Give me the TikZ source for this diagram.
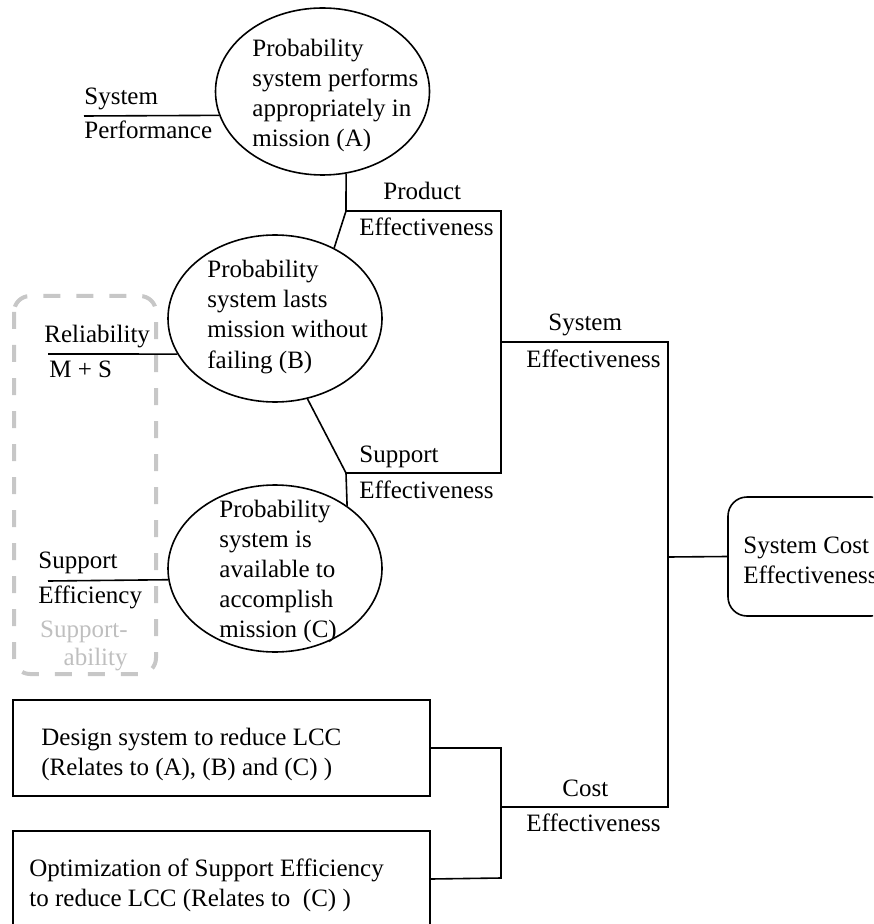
\documentclass[tikz,border=0pt]{standalone}
\usepackage{fontspec}
\setmainfont{Liberation Serif}
\usetikzlibrary{shapes.geometric}
\begin{document}
\begin{tikzpicture}[x=0.5pt,y=-0.5pt,
  every node/.style={font=\fontsize{12.5pt}{15pt}\selectfont, inner sep=0pt},
  link/.style={draw=black, line width=0.8pt},
  oval/.style={ellipse, draw, line width=0.8pt, minimum width=107pt, minimum height=83.5pt},
  lbl/.style={anchor=base west, align=left},
  plainbox/.style={rectangle, draw, line width=0.8pt, minimum width=208.5pt, minimum height=48pt},
  goalbox/.style={rectangle, draw, rounded corners=9.5pt, line width=0.8pt,
                  minimum width=81pt, minimum height=59.5pt},
  groupframe/.style={draw=black!22, line width=2pt, dash pattern=on 8.5pt off 8pt, rounded corners=8pt},
  faint/.style={text=black!25}
]
\clip (0,0) rectangle (873,924);

% the three probability ovals (multi-line labels sit on their last baseline)
\node[oval] (A) at (322.5,91.5) {};
\node[oval] (B) at (275,318.5) {};
\node[oval] (C) at (275,568.5) {};
\node[lbl] (Atext) at (252,147) {Probability\\system performs\\appropriately in\\mission (A)};
\node[lbl] (Btext) at (207,368) {Probability\\system lasts\\mission without\\failing (B)};
\node[lbl] (Ctext) at (219,637) {Probability\\system is\\available to\\accomplish\\mission (C)};

% grey dashed group on the left
\draw[groupframe] (14,296) rectangle (156,674);

% labels feeding the ovals
\node[lbl] (perfTop) at (84,105) {System};
\node[lbl] (perfBot) at (84,139) {Performance};
\coordinate (perfEnd) at (84,116);
\draw[link] (perfEnd) -- (A.193.5);

\node[lbl] (relTop) at (44,343) {Reliability};
\node[lbl] (relBot) at (49,378) {M + S};
\coordinate (relEnd) at (48,354);
\draw[link] (relEnd) -- (B.200);

\node[lbl] (supTop) at (38,568) {Support};
\node[lbl] (supBot) at (38,603) {Efficiency};
\coordinate (supEnd) at (48,581);
\draw[link] (supEnd) -- (C.186.7);

\node[anchor=base east, faint] (abil1) at (128,637) {Support-};
\node[anchor=base east, faint] (abil2) at (128,665) {ability};

% junction points of the bracket tree
\coordinate (P)   at (346,211);
\coordinate (Pr)  at (501,211);
\coordinate (Sr)  at (501,473);
\coordinate (S)   at (346,473);
\coordinate (SE)  at (501,342);
\coordinate (SEr) at (668,342);
\coordinate (CEr) at (668,807);
\coordinate (CE)  at (501,807);
\coordinate (SCEj) at (668,557);
\coordinate (D1)  at (501,748);
\coordinate (D2)  at (501,878);

\draw[link] (A.286.1) -- (P) -- (B.50.5);
\draw[link] (P) -- (Pr) -- (Sr) -- (S);
\draw[link] (B.292.6) -- (S) -- (C.41.4);
\draw[link] (SE) -- (SEr) -- (CEr) -- (CE);

\node[lbl] (prodTop) at (383,200) {Product};
\node[lbl] (prodBot) at (359,236) {Effectiveness};
\node[lbl] (suppTop) at (359,462) {Support};
\node[lbl] (suppBot) at (359,498) {Effectiveness};
\node[lbl] (sysTop) at (548,331) {System};
\node[lbl] (sysBot) at (526,367) {Effectiveness};
\node[lbl] (costTop) at (562,796) {Cost};
\node[lbl] (costBot) at (526,831) {Effectiveness};

% overall goal
\node[goalbox] (SCE) at (809,556.5) {};
\node[lbl] (SCEtext) at (743,583) {System Cost\\Effectiveness};
\draw[link] (SCEj) -- (SCE.west);

% cost boxes
\node[plainbox] (box1) at (221.5,748) {};
\node[lbl] (box1text) at (41,775) {Design system to reduce LCC\\(Relates to (A), (B) and (C) )};
\node[plainbox] (box2) at (221.5,879) {};
\node[lbl] (box2text) at (29,906) {Optimization of Support Efficiency\\to reduce LCC (Relates to\ \ (C) )};
\draw[link] (box1.east) -- (D1) -- (D2) -- (box2.east);
\end{tikzpicture}
\end{document}
